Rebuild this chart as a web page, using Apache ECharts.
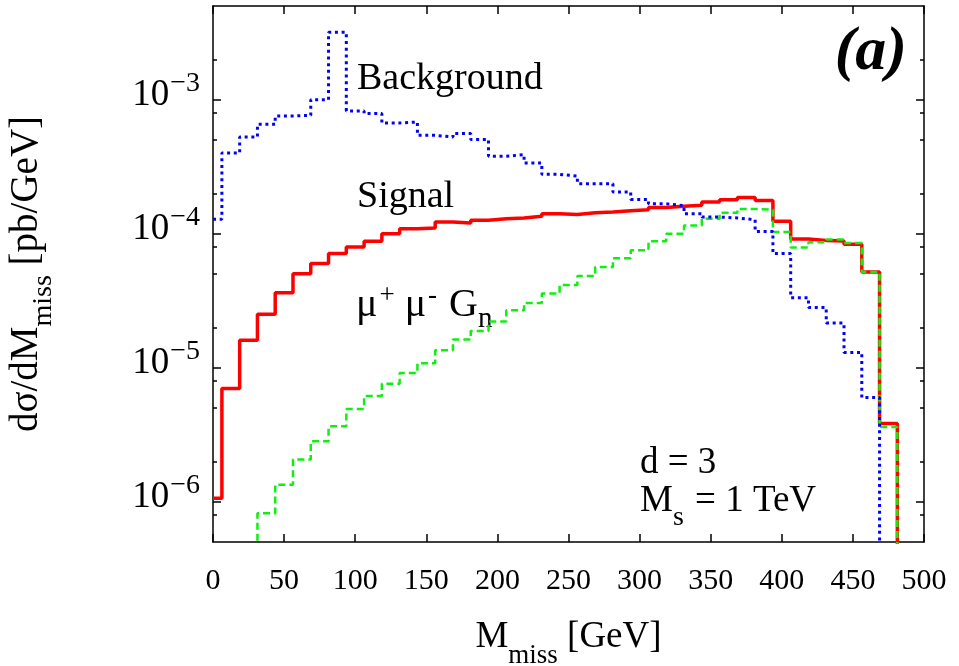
<!DOCTYPE html>
<html>
<head>
<meta charset="utf-8">
<script src="https://cdn.jsdelivr.net/npm/echarts@6/dist/echarts.min.js"></script>
<style>
  html, body { margin: 0; padding: 0; background: #fff; }
  #chart { width: 959px; height: 666px; }
</style>
</head>
<body>
<div id="chart"></div>
<script>
// bin centres [GeV], bin width 12.5
const binCenters = [0, 12.5, 25, 37.5, 50, 62.5, 75, 87.5, 100, 112.5, 125, 137.5, 150, 162.5,
  175, 187.5, 200, 212.5, 225, 237.5, 250, 262.5, 275, 287.5, 300, 312.5, 325, 337.5, 350,
  362.5, 375, 387.5, 400, 412.5, 425, 437.5, 450, 462.5, 475];

// signal (red solid)
const signal = [1.06e-6, 6.98e-6, 1.60e-5, 2.50e-5, 3.63e-5, 5.03e-5, 5.98e-5, 7.10e-5, 7.95e-5,
  8.77e-5, 1.00e-4, 1.09e-4, 1.10e-4, 1.22e-4, 1.20e-4, 1.26e-4, 1.29e-4, 1.31e-4, 1.35e-4,
  1.41e-4, 1.39e-4, 1.43e-4, 1.45e-4, 1.48e-4, 1.51e-4, 1.57e-4, 1.60e-4, 1.63e-4, 1.72e-4,
  1.79e-4, 1.86e-4, 1.77e-4, 1.24e-4, 9.12e-5, 8.91e-5, 8.81e-5, 8.33e-5, 5.18e-5, 3.83e-6];

// mu+ mu- G_n (green dashed)
const mumuGn = [null, null, null, 8.2e-7, 1.34e-6, 2.06e-6, 2.82e-6, 3.65e-6, 4.92e-6, 6.15e-6,
  7.60e-6, 9.12e-6, 1.08e-5, 1.35e-5, 1.62e-5, 1.88e-5, 2.21e-5, 2.68e-5, 3.04e-5, 3.57e-5,
  4.14e-5, 4.83e-5, 5.64e-5, 6.55e-5, 7.52e-5, 8.77e-5, 1.00e-4, 1.15e-4, 1.29e-4, 1.43e-4,
  1.53e-4, 1.51e-4, 1.03e-4, 7.87e-5, 8.63e-5, 9.04e-5, 8.51e-5, 5.18e-5, 3.61e-6];

// background (blue dotted)
const background = [1.28e-4, 4.0e-4, 5.26e-4, 6.55e-4, 7.55e-4, 7.64e-4, 1.0e-3, 3.18e-3, 8.23e-4,
  7.87e-4, 6.70e-4, 6.81e-4, 5.42e-4, 5.26e-4, 5.58e-4, 5.04e-4, 3.78e-4, 3.89e-4, 3.37e-4,
  2.77e-4, 2.69e-4, 2.36e-4, 2.36e-4, 2.05e-4, 1.80e-4, 1.67e-4, 1.62e-4, 1.41e-4, 1.33e-4,
  1.31e-4, 1.27e-4, 1.04e-4, 7.10e-5, 3.33e-5, 2.81e-5, 2.15e-5, 1.30e-5, 5.98e-6];

const yMajor = [1e-6, 1e-5, 1e-4, 1e-3];
const yMinor = [8e-7, 2e-6, 5e-6, 8e-6, 2e-5, 5e-5, 8e-5, 2e-4, 5e-4, 8e-4, 2e-3];

const BIN = 12.5;
const FLOOR = 1e-9;   // below the axis, closes the histogram outline

// histogram outline for step:'end' lines
function outline(vals) {
  const pts = [];
  let last = -1;
  vals.forEach(function (v, i) {
    if (v == null) return;
    const left = Math.max(0, binCenters[i] - BIN / 2);
    if (!pts.length && left > 0) pts.push([left, FLOOR]);
    pts.push([left, v]);
    last = i;
  });
  pts.push([binCenters[last] + BIN / 2, FLOOR]);
  return pts;
}

const serif = '"Liberation Serif", "Times New Roman", serif';
const black = '#000';

function yAxisDef(pos, major) {
  return {
    type: 'log', logBase: 10, min: 5e-7, max: 5e-3, position: pos,
    axisLine: { show: major, lineStyle: { color: black, width: 1.5 } },
    axisTick: { show: true, inside: true, length: major ? 8 : 4,
      customValues: major ? yMajor : yMinor,
      lineStyle: { color: black, width: 1.5 } },
    axisLabel: { show: pos === 'left' && major, customValues: yMajor, margin: 13,
      padding: [0, 0, 16, 0],
      formatter: function (v) {
        const e = Math.round(Math.log10(v));
        return '{b|10}{s|\u2212' + (-e) + '}';
      },
      rich: {
        b: { fontFamily: serif, fontSize: 37, color: black, lineHeight: 44, verticalAlign: 'bottom' },
        s: { fontFamily: serif, fontSize: 28, color: black, lineHeight: 26, verticalAlign: 'top', padding: [0, 0, 0, 1] }
      }
    },
    splitLine: { show: false },
    minorTick: { show: false }
  };
}

const chart = echarts.init(document.getElementById('chart'), null, { renderer: 'canvas' });

const option = {
  animation: false,
  backgroundColor: '#fff',
  grid: { left: 213, right: 35, top: 6, bottom: 124, outerBoundsMode: 'none', containLabel: false },
  xAxis: [
    {
      type: 'value', min: 0, max: 500, interval: 50, position: 'bottom',
      axisLine: { lineStyle: { color: black, width: 1.5 } },
      axisTick: { inside: true, length: 8, lineStyle: { color: black, width: 1.5 } },
      axisLabel: { color: black, fontFamily: serif, fontSize: 30, margin: 24 },
      splitLine: { show: false },
      name: '{m|M}{sub|miss}{m| [GeV]}',
      nameLocation: 'middle', nameGap: 77,
      nameTextStyle: {
        rich: {
          m: { fontFamily: serif, fontSize: 37, color: black, lineHeight: 44, verticalAlign: 'top' },
          sub: { fontFamily: serif, fontSize: 27, color: black, lineHeight: 27, verticalAlign: 'bottom', padding: [0, 0, -6, 0] }
        }
      }
    },
    {
      type: 'value', min: 0, max: 500, interval: 50, position: 'top',
      axisLine: { lineStyle: { color: black, width: 1.5 } },
      axisTick: { inside: true, length: 8, lineStyle: { color: black, width: 1.5 } },
      axisLabel: { show: false },
      splitLine: { show: false }
    }
  ],
  yAxis: [
    Object.assign(yAxisDef('left', true), {
      name: '{m|d\u03c3/dM}{sub|miss}{m| [pb/GeV]}',
      nameLocation: 'middle', nameRotate: 90, nameGap: 160,
      nameTextStyle: {
        rich: {
          m: { fontFamily: serif, fontSize: 39, color: black, lineHeight: 46, verticalAlign: 'top' },
          sub: { fontFamily: serif, fontSize: 28, color: black, lineHeight: 28, verticalAlign: 'bottom', padding: [0, 0, -5, 0] }
        }
      }
    }),
    yAxisDef('left', false),
    yAxisDef('right', true),
    yAxisDef('right', false)
  ],
  series: [
    {
      name: 'Signal', type: 'line', step: 'end', symbol: 'none',
      data: outline(signal),
      lineStyle: { color: '#ff0000', width: 3.5 }, z: 2
    },
    {
      name: 'mumuGn', type: 'line', step: 'end', symbol: 'none',
      data: outline(mumuGn),
      lineStyle: { color: '#11ee11', width: 2.5, type: [7, 4] }, z: 3
    },
    {
      name: 'Background', type: 'line', step: 'end', symbol: 'none',
      data: outline(background),
      lineStyle: { color: '#0000ff', width: 3, type: [3, 3.7] }, z: 4
    }
  ],
  graphic: [
    { type: 'text', left: 357, top: 60, style: { text: 'Background', font: '38px ' + serif, fill: black } },
    { type: 'text', left: 357, top: 178, style: { text: 'Signal', font: '38px ' + serif, fill: black } },
    { type: 'text', left: 356, top: 282, style: {
        text: '{m|\u03bc}{s|+}{m| \u03bc}{s|-}{g|G}{sub|n}',
        rich: {
          m: { fontFamily: serif, fontSize: 40, fill: black, lineHeight: 46, verticalAlign: 'middle' },
          g: { fontFamily: serif, fontSize: 40, fill: black, lineHeight: 46, verticalAlign: 'middle', padding: [0, 0, 0, 12] },
          s: { fontFamily: serif, fontSize: 27, fill: black, lineHeight: 27, verticalAlign: 'top', padding: [0, 0, 0, 2] },
          sub: { fontFamily: serif, fontSize: 29, fill: black, lineHeight: 29, verticalAlign: 'bottom', padding: [0, 0, -6, 0] }
        } } },
    { type: 'text', right: 52, top: 22, style: { text: '(a)', font: 'italic bold 62px ' + serif, fill: black } },
    { type: 'text', left: 640, top: 445, style: { text: 'd = 3', font: '37px ' + serif, fill: black } },
    { type: 'text', left: 640, top: 483, style: {
        text: '{m|M}{sub|s}{m| = 1 TeV}',
        rich: {
          m: { fontFamily: serif, fontSize: 37, fill: black, lineHeight: 40, verticalAlign: 'top' },
          sub: { fontFamily: serif, fontSize: 28, fill: black, lineHeight: 28, verticalAlign: 'bottom', padding: [0, 2, -9, 0] }
        } } }
  ]
};

chart.setOption(option);
</script>
</body>
</html>
